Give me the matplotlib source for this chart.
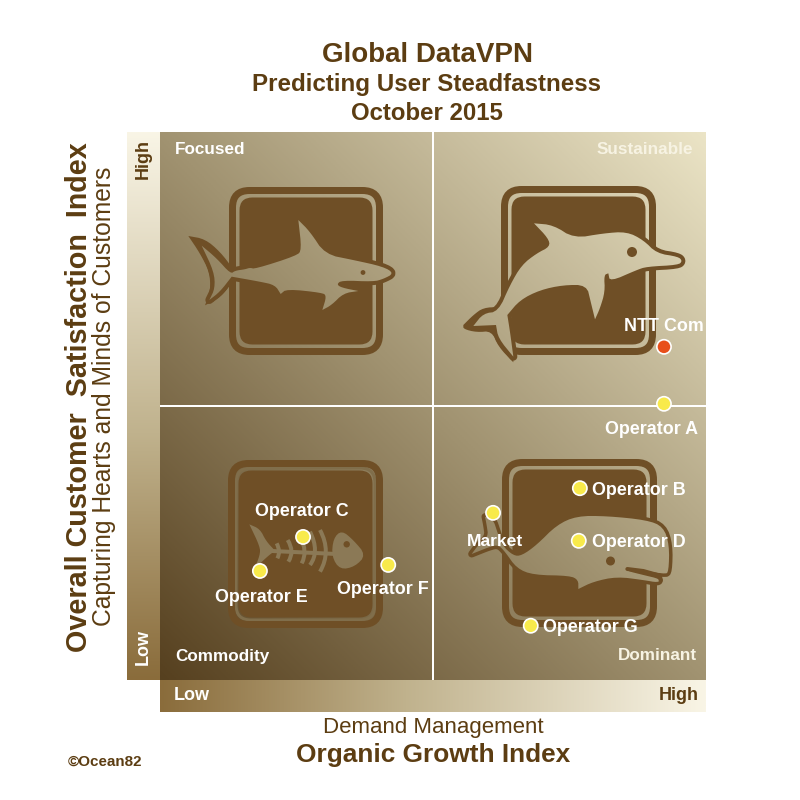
#! /usr/bin/env python3

import matplotlib

matplotlib.use("Agg")
import matplotlib.pyplot as plt
import numpy as np
from matplotlib.colors import LinearSegmentedColormap
from matplotlib.patches import Circle, FancyBboxPatch, PathPatch, Polygon
from matplotlib.path import Path

plt.rcParams["font.family"] = ["Liberation Sans", "DejaVu Sans"]

# chart values, both indexes run 0-100
operators = [
    "NTT Com",
    "Operator A",
    "Operator B",
    "Operator D",
    "Operator G",
    "Operator C",
    "Operator E",
    "Operator F",
    "Market",
]
growth_index = [92.3, 92.3, 76.9, 76.7, 67.9, 26.2, 18.3, 41.8, 61.0]
satisfaction_index = [60.8, 50.4, 35.0, 25.4, 9.9, 26.1, 19.9, 21.0, 30.5]

# label placement in pixels from the dot: dx, dy, horizontal alignment
label_offsets = {
    "NTT Com": (0, 20, "center"),
    "Operator A": (-12, -26, "center"),
    "Operator B": (12, -2, "left"),
    "Operator D": (13, -2, "left"),
    "Operator G": (12, -2, "left"),
    "Operator C": (-1, 25, "center"),
    "Operator E": (1, -27, "center"),
    "Operator F": (-5, -25, "center"),
    "Market": (2, -29, "center"),
}

BROWN = "#6f4f26"
DARK_TEXT = "#5c3d12"
YELLOW = "#f8ea4b"
RED = "#e84f1a"

# plot frame in pixels
LEFT, RIGHT, TOP, BOTTOM = 160, 706, 132, 680
PX = 72.0 / 100.0

# outlines, repeated points stay sharp
shark = [
    (245, 362), (245, 362), (290, 400), (332, 447), (345, 437), (375, 433), (390, 428),
    (405, 432), (530, 392), (545, 375), (535, 285), (535, 285), (570, 320), (615, 388),
    (700, 405), (790, 425), (822, 445), (790, 462), (760, 470), (665, 466), (650, 478),
    (665, 488), (715, 498), (715, 498), (670, 505), (635, 540), (607, 555), (607, 555),
    (620, 512), (605, 503), (500, 492), (482, 507), (482, 507), (465, 480), (420, 470),
    (335, 455), (335, 455), (300, 500), (268, 525), (268, 525), (285, 490), (282, 440),
]
shark_tail = [
    (205, 333), (205, 333), (255, 342), (300, 380), (340, 432), (340, 465), (305, 515),
    (255, 541), (255, 541), (272, 495), (268, 440), (240, 385),
]
dolphin = [
    (312, 295), (312, 295), (370, 300), (432, 340), (520, 325), (590, 320), (640, 345),
    (680, 385), (745, 395), (757, 408), (745, 420), (650, 425), (620, 435), (540, 470),
    (535, 445), (535, 445), (522, 450), (525, 500), (510, 550), (495, 583), (495, 583),
    (482, 530), (470, 480), (400, 480), (330, 495), (270, 525), (232, 570), (232, 570),
    (240, 620), (250, 695), (250, 695), (205, 640), (198, 600), (198, 600), (130, 603),
    (130, 603), (160, 565), (205, 560), (240, 480), (275, 420), (320, 385), (360, 365),
    (355, 340),
]
dolphin_tail = [
    (100, 600), (100, 600), (130, 570), (160, 548), (210, 546), (250, 560), (250, 712),
    (250, 712), (205, 665), (185, 618), (140, 622), (100, 612),
]
whale = [
    (165, 335), (165, 335), (190, 345), (200, 375), (215, 420), (250, 452), (275, 452),
    (320, 420), (380, 360), (440, 333), (530, 333), (650, 345), (700, 365), (718, 420),
    (716, 500), (705, 508), (595, 488), (588, 497), (640, 510), (690, 522), (685, 533),
    (640, 525), (560, 515), (490, 530), (445, 552), (445, 552), (445, 525), (420, 512),
    (310, 510), (260, 490), (225, 440), (205, 420), (180, 425), (125, 447), (125, 447),
    (145, 420), (175, 395), (170, 360),
]
whale_mouth = [(592, 492), (640, 498), (690, 512), (692, 526)]
fish_tail = [
    (388, 358), (388, 358), (420, 372), (438, 408), (465, 437), (465, 437), (438, 458),
    (402, 494), (402, 494), (420, 450), (420, 425),
]
fish_head = [
    (640, 400), (665, 376), (700, 405), (738, 450), (705, 485), (660, 494), (635, 455),
]
fish_ribs = [
    ((470, 415), (483, 440), (472, 460)),
    ((503, 405), (525, 440), (505, 470)),
    ((540, 395), (565, 440), (545, 475)),
    ((570, 380), (600, 440), (570, 480)),
    ((600, 375), (635, 440), (600, 500)),
]


def zoomed(points, x0, y0):
    return [(x / 3.0 + x0, y / 3.0 + y0) for x, y in points]


def smooth(points, passes=2):
    pts = np.array(points, dtype=float)
    for _ in range(passes):
        nxt = np.roll(pts, -1, axis=0)
        pts = np.column_stack(
            [0.75 * pts + 0.25 * nxt, 0.25 * pts + 0.75 * nxt]
        ).reshape(-1, 2)
    return pts


def addBadge(ax, x0, y0, x1, y1, gap=None):
    if gap is not None:
        ax.add_patch(
            FancyBboxPatch(
                (x0 + 8, y0 + 8),
                x1 - x0 - 16,
                y1 - y0 - 16,
                boxstyle="round,pad=0,rounding_size=15",
                fc="none",
                ec=gap,
                lw=3 * PX,
                zorder=2,
            )
        )
    ring = FancyBboxPatch(
        (x0 + 3.5, y0 + 3.5),
        x1 - x0 - 7,
        y1 - y0 - 7,
        boxstyle="round,pad=0,rounding_size=17",
        fc="none",
        ec=BROWN,
        lw=7 * PX,
        zorder=2,
    )
    ax.add_patch(ring)
    inner = FancyBboxPatch(
        (x0 + 10.5, y0 + 10.5),
        x1 - x0 - 21,
        y1 - y0 - 21,
        boxstyle="round,pad=0,rounding_size=13",
        fc=BROWN,
        ec="none",
        zorder=2,
    )
    ax.add_patch(inner)


def addAnimal(ax, outline, eye, eye_r, image, stroke=7, tail=None):
    pts = smooth(outline)
    if tail is not None:
        ax.add_patch(Polygon(smooth(tail), closed=True, fc=BROWN, ec="none", zorder=3))
    ax.add_patch(
        Polygon(pts, closed=True, fc=BROWN, ec=BROWN, lw=stroke * PX, joinstyle="round", zorder=3)
    )
    body = Polygon(pts, closed=True, fc="none", ec="none", zorder=4)
    ax.add_patch(body)
    shape = ax.imshow(
        image,
        cmap=field_cmap,
        vmin=0,
        vmax=1,
        extent=(LEFT, RIGHT, BOTTOM, TOP),
        aspect="auto",
        interpolation="bilinear",
        zorder=4,
    )
    shape.set_clip_path(body)
    ax.add_patch(Circle(eye, eye_r, fc=BROWN, ec="none", zorder=5))


field_cmap = LinearSegmentedColormap.from_list(
    "field", [(0, "#56401f"), (0.5, "#a19371"), (1, "#ebe4c6")]
)
strip_cmap = LinearSegmentedColormap.from_list(
    "strip", [(0, "#8a6c3b"), (0.45, "#c0b28d"), (1, "#f9f5e6")]
)

fig = plt.figure(figsize=(8, 8), dpi=100)
bg = fig.add_axes([0, 0, 1, 1])
bg.set_axis_off()

u, v = np.meshgrid(np.linspace(0, 1, 300), np.linspace(1, 0, 300))
field = (u + v) / 2.0
bg.imshow(
    field,
    cmap=field_cmap,
    vmin=0,
    vmax=1,
    extent=(LEFT, RIGHT, BOTTOM, TOP),
    aspect="auto",
    interpolation="bilinear",
    zorder=1,
)
ramp = np.linspace(0, 1, 256)
bg.imshow(
    ramp[::-1].reshape(-1, 1),
    cmap=strip_cmap,
    extent=(127, LEFT, BOTTOM, TOP),
    aspect="auto",
    zorder=1,
)
bg.imshow(
    ramp.reshape(1, -1),
    cmap=strip_cmap,
    extent=(LEFT, RIGHT, 712, BOTTOM),
    aspect="auto",
    zorder=1,
)
bg.set_xlim(0, 800)
bg.set_ylim(800, 0)

# shark
addBadge(bg, 229, 187, 383, 355)
addAnimal(
    bg, zoomed(shark, 120, 125), (363, 272.5), 2.4, field, stroke=8,
    tail=zoomed(shark_tail, 120, 125),
)

# dolphin
addBadge(bg, 501, 186, 656, 355)
addAnimal(
    bg, zoomed(dolphin, 430, 125), (632, 252), 5, field, stroke=8,
    tail=zoomed(dolphin_tail, 430, 125),
)

# whale
addBadge(bg, 502, 459, 657, 627)
addAnimal(bg, zoomed(whale, 430, 405), (610.5, 561), 4.5, field, stroke=7)
mouth = zoomed(whale_mouth, 430, 405)
bg.plot(*zip(*mouth), color=BROWN, lw=4 * PX, zorder=5, solid_capstyle="round")

# dead fish is flat colour on the dark corner
addBadge(bg, 228, 460, 383, 628, gap="#806e4b")
FISH = "#8b7956"
for part in (fish_tail, fish_head):
    bg.add_patch(Polygon(smooth(zoomed(part, 120, 405)), closed=True, fc=FISH, ec="none", zorder=3))
spine = zoomed([(435, 437), (650, 447)], 120, 405)
bg.plot(*zip(*spine), color=FISH, lw=4 * PX, zorder=3, solid_capstyle="round")
for rib in fish_ribs:
    rib_path = Path(zoomed(rib, 120, 405), [Path.MOVETO, Path.CURVE3, Path.CURVE3])
    bg.add_patch(PathPatch(rib_path, fc="none", ec=FISH, lw=4 * PX, zorder=3))
bg.add_patch(Circle((346.7, 544.3), 3.2, fc=BROWN, ec="none", zorder=4))

# titles
bg.text(427, 55, "Global DataVPN", fontsize=20, fontweight="bold", color=DARK_TEXT, ha="center", va="center")
bg.text(427, 85, "Predicting User Steadfastness", fontsize=17.4, fontweight="bold", color=DARK_TEXT, ha="center", va="center")
bg.text(427, 113, "October 2015", fontsize=17.3, fontweight="bold", color=DARK_TEXT, ha="center", va="center")

bg.text(79, 397, "Overall Customer  Satisfaction  Index", fontsize=20.7, fontweight="bold", color=DARK_TEXT, rotation=90, ha="center", va="center")
bg.text(104, 396, "Capturing Hearts and Minds of Customers", fontsize=17.7, color=DARK_TEXT, rotation=90, ha="center", va="center")
bg.text(433, 728, "Demand Management", fontsize=16, color=DARK_TEXT, ha="center", va="center")
bg.text(433, 755, "Organic Growth Index", fontsize=18.9, fontweight="bold", color=DARK_TEXT, ha="center", va="center")
bg.text(68, 762, "©Ocean82", fontsize=10.9, fontweight="bold", color=DARK_TEXT, ha="left", va="center")

# strip labels
bg.text(143, 159, "High", fontsize=13, fontweight="bold", color=DARK_TEXT, rotation=90, ha="center", va="center", zorder=6)
bg.text(143, 647, "Low", fontsize=13, fontweight="bold", color="white", rotation=90, ha="center", va="center", zorder=6)
bg.text(174, 696, "Low", fontsize=13, fontweight="bold", color="white", ha="left", va="center", zorder=6)
bg.text(699, 696, "High", fontsize=13, fontweight="bold", color=DARK_TEXT, ha="right", va="center", zorder=6)

# quadrant names
bg.text(175, 150, "Focused", fontsize=12.3, fontweight="bold", color="white", ha="left", va="center", zorder=6)
bg.text(693, 150, "Sustainable", fontsize=12.3, fontweight="bold", color="#f7f3e3", ha="right", va="center", zorder=6)
bg.text(175, 657, "Commodity", fontsize=12.3, fontweight="bold", color="white", ha="left", va="center", zorder=6)
bg.text(697, 656, "Dominant", fontsize=12.3, fontweight="bold", color="#f7f3e3", ha="right", va="center", zorder=6)

# the data sits on its own axes over the picture
ax = fig.add_axes(
    [LEFT / 800, (800 - BOTTOM) / 800, (RIGHT - LEFT) / 800, (BOTTOM - TOP) / 800]
)
ax.set_xlim(0, 100)
ax.set_ylim(0, 100)
ax.patch.set_alpha(0)
ax.set_axis_off()
ax.axvline(50, color="white", lw=2 * PX, zorder=1)
ax.axhline(50, color="white", lw=2 * PX, zorder=1)

colors = [RED if name == "NTT Com" else YELLOW for name in operators]
ax.scatter(
    growth_index,
    satisfaction_index,
    s=105,
    c=colors,
    edgecolors="white",
    linewidths=1.2,
    clip_on=False,
    zorder=3,
)
for name, gx, sy in zip(operators, growth_index, satisfaction_index):
    dx, dy, align = label_offsets[name]
    ax.annotate(
        name,
        xy=(gx, sy),
        xytext=(dx * PX, dy * PX),
        textcoords="offset points",
        fontsize=12.6 if name == "Market" else 12.9,
        fontweight="bold",
        color="white",
        ha=align,
        va="center",
        zorder=4,
    )

fig.savefig("out.png", dpi=100)
